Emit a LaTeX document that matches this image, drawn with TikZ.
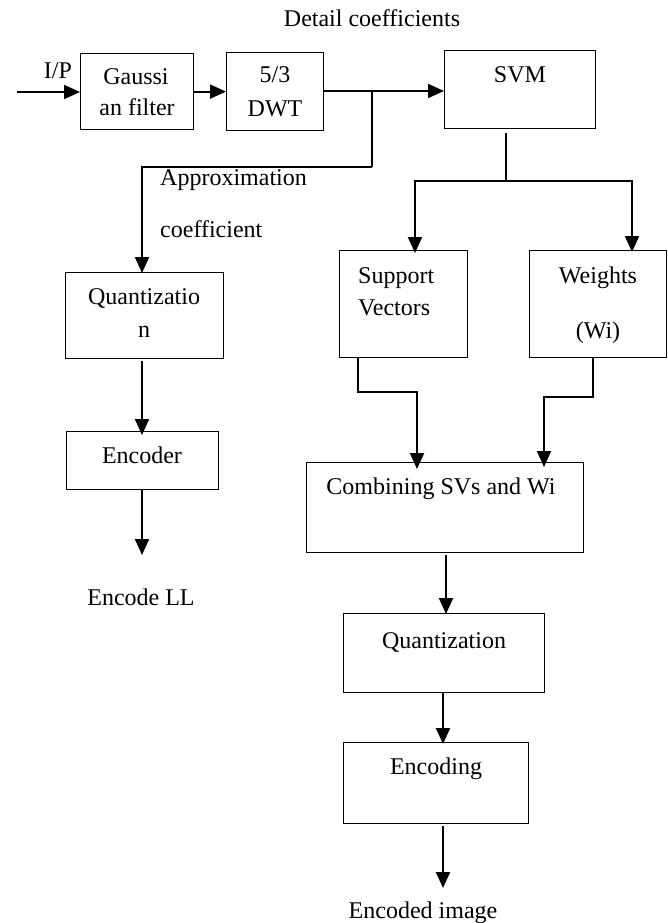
\documentclass[tikz,border=0pt]{standalone}
\usepackage{fontspec}
\setmainfont{Liberation Serif}
\usetikzlibrary{arrows.meta}
\begin{document}
\begin{tikzpicture}[x=1pt,y=-1pt,
  box/.style={draw,line width=1.2pt,inner sep=0pt,anchor=north west},
  txt/.style={anchor=base,inner sep=0pt,font=\fontsize{24}{28}\selectfont},
  txtl/.style={anchor=base west,inner sep=0pt,font=\fontsize{24}{28}\selectfont},
  arr/.style={line width=2pt,-{Triangle[length=16pt,width=14pt]}},
  ln/.style={line width=1.3pt}]
\useasboundingbox (0,0) rectangle (668,923);
% boxes
\node[box,minimum width=113pt,minimum height=76pt] (gauss) at (80,53) {};
\node[box,minimum width=97pt,minimum height=78pt] (dwt) at (226,52) {};
\node[box,minimum width=151pt,minimum height=78pt] (svm) at (444,50) {};
\node[box,minimum width=158pt,minimum height=86pt] (quant1) at (65,272) {};
\node[box,minimum width=152pt,minimum height=58pt] (enc1) at (66,431) {};
\node[box,minimum width=128pt,minimum height=107pt] (sv) at (339,250) {};
\node[box,minimum width=137pt,minimum height=107pt] (wt) at (529,250) {};
\node[box,minimum width=277pt,minimum height=90pt] (comb) at (306,462) {};
\node[box,minimum width=201pt,minimum height=79pt] (quant2) at (343,613) {};
\node[box,minimum width=185pt,minimum height=81pt] (encg) at (343,742) {};
% texts
\node[txt] (tdet) at (372,27) {Detail coefficients};
\node[txt] (tip) at (58,79) {I/P};
\node[txt] (tg1) at (136,85) {Gaussi};
\node[txt] (tg2) at (137,116) {an filter};
\node[txt] (td1) at (275,83) {5/3};
\node[txt] (td2) at (275,117) {DWT};
\node[txt] (tsvm) at (520,83) {SVM};
\node[txtl] (tap1) at (160,185) {Approximation};
\node[txtl] (tap2) at (160,237) {coefficient};
\node[txtl] (tsv1) at (358,283) {Support};
\node[txtl] (tsv2) at (358,315) {Vectors};
\node[txt] (tw1) at (598,283) {Weights};
\node[txt] (tw2) at (598,338) {(Wi)};
\node[txt] (tq1) at (144,304) {Quantizatio};
\node[txt] (tq2) at (144,337) {n};
\node[txt] (te1) at (142,463) {Encoder};
\node[txt] (tll) at (141,605) {Encode LL};
\node[txt] (tcomb) at (441,494) {Combining SVs and Wi};
\node[txt] (tq3) at (444,648) {Quantization};
\node[txt] (tenc) at (436,774) {Encoding};
\node[txt] (timg) at (423,918) {Encoded image};
% coordinates
\coordinate (in) at (17,92);
\coordinate (br) at (372,91);
\coordinate (j1) at (372,167);
\coordinate (j2) at (142,167);
\coordinate (s1) at (506,133);
\coordinate (s2) at (506,181);
\coordinate (a1) at (415,181);
\coordinate (a2) at (632,181);
\coordinate (v1) at (358,357);
\coordinate (v2) at (358,392);
\coordinate (v3) at (417,392);
\coordinate (w1) at (593,357);
\coordinate (w2) at (593,397);
\coordinate (w3) at (544,397);
\coordinate (c1) at (446,555);
\coordinate (q1) at (443,693);
\coordinate (e1) at (443,826);
\coordinate (out2) at (443,888);
\coordinate (p1) at (142,361);
\coordinate (p2) at (142,489);
\coordinate (out1) at (142,555);
% connectors
\draw[arr] (in) -- (in -| gauss.west);
\draw[arr] (gauss.east) -- (dwt.west);
\draw[arr] (dwt.east |- br) -- (br -| svm.west);
\draw[ln] (br) -- (j1);
\draw[arr] (j1) -- (j2) -- ([yshift=-1pt]j2 |- quant1.north);
\draw[ln] (s1) -- (s2);
\draw[arr] (s2) -- (a1) -- ([yshift=-3pt]a1 |- sv.north);
\draw[arr] (s2) -- (a2) -- ([yshift=-2pt]a2 |- wt.north);
\draw[arr] (v1) -- (v2) -- (v3) -- ([yshift=-7pt]v3 |- comb.north);
\draw[arr] (w1) -- (w2) -- (w3) -- ([yshift=-5pt]w3 |- comb.north);
\draw[arr] (c1) -- ([yshift=-1pt]c1 |- quant2.north);
\draw[arr] (q1) -- ([yshift=-2pt]q1 |- encg.north);
\draw[arr] (e1) -- (out2);
\draw[arr] (p1) -- ([yshift=-4pt]p1 |- enc1.north);
\draw[arr] (p2) -- (out1);
\end{tikzpicture}
\end{document}
